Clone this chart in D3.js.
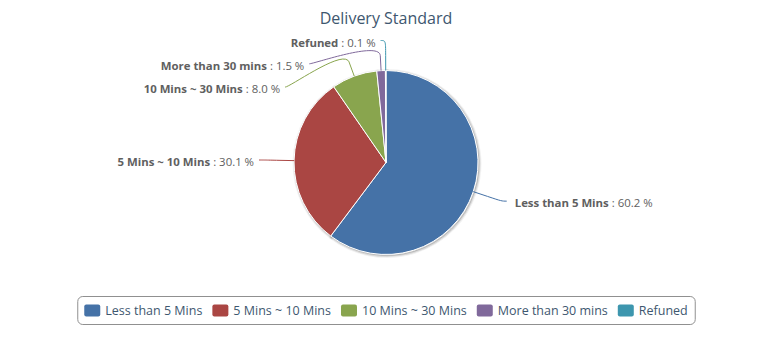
<!DOCTYPE html>
<html>
<head>
<meta charset="utf-8">
<script src="https://cdn.jsdelivr.net/npm/d3@7"></script>
<style>
  html, body { margin: 0; padding: 0; background: #fff; }
  svg { display: block; font-family: "Open Sans", "DejaVu Sans", sans-serif; }
</style>
</head>
<body>
<svg id="chart" width="772" height="340"></svg>
<script>
const titleText = "Delivery Standard";
const categories = ["Less than 5 Mins", "5 Mins ~ 10 Mins", "10 Mins ~ 30 Mins", "More than 30 mins", "Refuned"];
const percentages = [60.2, 30.1, 8.0, 1.5, 0.1];
const colors = ["#4572A7", "#AA4643", "#89A54E", "#80699B", "#3D96AE"];

const W = 772, H = 340;
const cx = 386, cy = 162.5, R = 92;
const distance = 30, connectorOffset = 15, spacing = 23.3;

const svg = d3.select("#chart");

// Title
svg.append("text")
  .attr("x", cx).attr("y", 18)
  .attr("text-anchor", "middle")
  .attr("dominant-baseline", "central")
  .attr("fill", "#3E576F")
  .style("font-size", "16px")
  .text(titleText);

const data = categories.map((c, i) => ({ name: c, value: percentages[i], color: colors[i] }));
const pie = d3.pie().value(d => d.value).sort(null).startAngle(0).endAngle(2 * Math.PI);
const arcs = pie(data);
const arc = d3.arc().innerRadius(0).outerRadius(R);

const g = svg.append("g").attr("transform", `translate(${cx},${cy})`);

// shadow
const sh = g.append("g").attr("transform", "translate(1,1)");
[[5, 0.05], [3, 0.1], [1, 0.15]].forEach(([w, o]) => {
  sh.selectAll(null).data(arcs).join("path")
    .attr("d", arc)
    .attr("fill", "none")
    .attr("stroke", "#000")
    .attr("stroke-opacity", o)
    .attr("stroke-width", w)
    .attr("stroke-linejoin", "round");
});

g.selectAll(".slice").data(arcs).join("path")
  .attr("class", "slice")
  .attr("d", arc)
  .attr("fill", d => d.data.color)
  .attr("stroke", "#fff")
  .attr("stroke-width", 1)
  .attr("stroke-linejoin", "round");

// label layout (Highcharts-like)
const RL = R + distance;
const labels = arcs.map(a => {
  const m = (a.startAngle + a.endAngle) / 2;
  const dx = Math.sin(m), dy = -Math.cos(m);
  return {
    a, dx, dy,
    left: dx < 0,
    ny: dy * RL,
    edge: [dx * R, dy * R],
    brk: [dx * (R + connectorOffset), dy * (R + connectorOffset)],
    ctrl: [dx * (R + 2 * connectorOffset), dy * (R + 2 * connectorOffset)]
  };
});
[true, false].forEach(side => {
  const ls = labels.filter(l => l.left === side).sort((p, q) => p.ny - q.ny);
  let prev = -Infinity;
  ls.forEach(l => {
    let y = Math.max(l.ny, -RL, prev + spacing);
    l.y = y;
    prev = y;
  });
  ls.forEach(l => {
    const h = Math.sqrt(Math.max(0, RL * RL - l.y * l.y));
    l.x = l.left ? -h : h;
  });
});

const lg = g.append("g");
labels.forEach(l => {
  const sx = l.x + (l.left ? -5 : 5);
  const p = d3.path();
  p.moveTo(sx, l.y);
  p.bezierCurveTo(l.x, l.y, l.ctrl[0], l.ctrl[1], l.brk[0], l.brk[1]);
  p.lineTo(l.edge[0], l.edge[1]);
  lg.append("path")
    .attr("d", p.toString())
    .attr("fill", "none")
    .attr("stroke", l.a.data.color)
    .attr("stroke-width", 1);
  const t = lg.append("text")
    .attr("x", l.left ? l.x - 10 : l.x + 13)
    .attr("y", l.y + 1)
    .attr("dominant-baseline", "central")
    .attr("text-anchor", l.left ? "end" : "start")
    .attr("fill", "#606060")
    .style("font-size", "11.4px");
  t.append("tspan").attr("font-weight", "bold").text(l.a.data.name);
  t.append("tspan").text(" : " + l.a.data.value.toFixed(1) + " %");
});

// Legend
const leg = svg.append("g");
const itemsG = leg.append("g");
const symW = 16, symH = 12, symGap = 5, itemGap = 10, pad = 7;
let xpos = 0;
data.forEach(d => {
  const it = itemsG.append("g").attr("transform", `translate(${xpos},0)`);
  it.append("rect").attr("x", 0).attr("y", -symH / 2).attr("width", symW).attr("height", symH)
    .attr("rx", 2).attr("fill", d.color);
  const tx = it.append("text").attr("x", symW + symGap).attr("y", 0)
    .attr("dominant-baseline", "central")
    .attr("fill", "#3E576F")
    .style("font-size", "12.5px")
    .text(d.name);
  const w = tx.node().getComputedTextLength();
  xpos += symW + symGap + w + itemGap;
});
const itemsW = xpos - itemGap;
const boxW = itemsW + 2 * pad;
const boxX = cx - boxW / 2;
const boxY = 296, boxH = 28;
leg.insert("rect", ":first-child")
  .attr("x", boxX + 0.5).attr("y", boxY + 0.5).attr("width", boxW).attr("height", boxH)
  .attr("rx", 5).attr("fill", "#fff").attr("stroke", "#909090").attr("stroke-width", 1);
itemsG.attr("transform", `translate(${boxX + pad},${boxY + boxH / 2 + 0.5})`);
</script>
</body>
</html>
